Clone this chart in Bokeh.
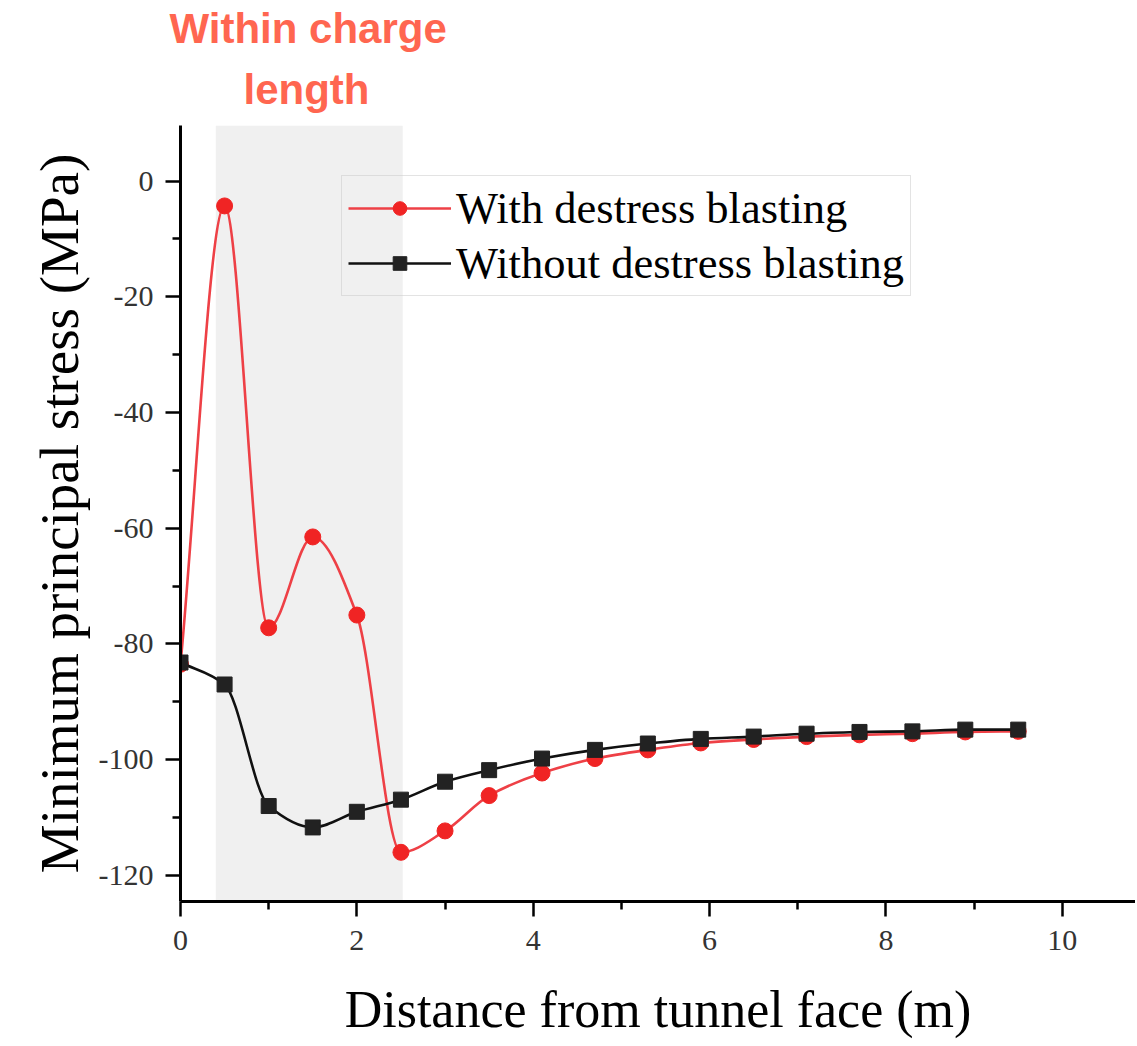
import numpy as np
from bokeh.plotting import figure
from bokeh.models import (ColumnDataSource, Range1d, FixedTicker, BoxAnnotation,
                          Legend, LegendItem, PrintfTickFormatter, Title)
from bokeh.embed import file_html
from bokeh.resources import INLINE

# ---------------- data ----------------
distance = [0, 0.5, 1.0, 1.5, 2.0, 2.5, 3.0, 3.5, 4.1, 4.7, 5.3, 5.9, 6.5, 7.1, 7.7, 8.3, 8.9, 9.5]
with_blasting = [-83.5, -4.3, -77.2, -61.5, -75.0, -116.0, -112.3, -106.2, -102.3, -99.8,
                 -98.3, -97.1, -96.5, -96.0, -95.7, -95.5, -95.2, -95.1]
without_blasting = [-83.2, -87.0, -108.0, -111.7, -109.0, -106.9, -103.8, -101.8, -99.8, -98.3,
                    -97.2, -96.4, -96.0, -95.5, -95.2, -95.1, -94.8, -94.8]
x_major_ticks = [0, 2, 4, 6, 8, 10]
x_minor_ticks = [1, 3, 5, 7, 9]
y_major_ticks = [-120, -100, -80, -60, -40, -20, 0]
y_minor_ticks = [-110, -90, -70, -50, -30, -10]
charge_start, charge_end = 0.4, 2.52
series_names = ["With destress blasting", "Without destress blasting"]
annotation_lines = ["Within charge", "length"]

RED_LINE = "#EE4046"
RED_MARK = "#F02424"
BLACK_LINE = "#111111"
BLACK_MARK = "#222222"
ANNOT = "#FF6650"
SERIF = "Liberation Serif"


def smooth_segments(xs, ys):
    """Monotone (Fritsch-Carlson) cubic tangents -> Bezier control points per data segment."""
    x = np.asarray(xs, float)
    y = np.asarray(ys, float)
    h = np.diff(x)
    d = np.diff(y) / h
    m = np.empty_like(y)
    m[0], m[-1] = d[0], d[-1]
    for k in range(1, len(x) - 1):
        if d[k - 1] * d[k] <= 0:
            m[k] = 0.0
        else:
            w1 = 2 * h[k] + h[k - 1]
            w2 = h[k] + 2 * h[k - 1]
            m[k] = (w1 + w2) / (w1 / d[k - 1] + w2 / d[k])
    return dict(
        x0=x[:-1], y0=y[:-1], x1=x[1:], y1=y[1:],
        cx0=x[:-1] + h / 3.0, cy0=y[:-1] + m[:-1] * h / 3.0,
        cx1=x[1:] - h / 3.0, cy1=y[1:] - m[1:] * h / 3.0,
    )


p = figure(width=1135, height=1040, output_backend="svg", toolbar_location=None,
           x_range=Range1d(0, 10.83), y_range=Range1d(-124.5, 9.6),
           min_border_left=180, min_border_right=0, min_border_top=125, min_border_bottom=135)
p.outline_line_color = None
p.grid.visible = False

# annotation above the band (first added sits nearest the frame)
p.add_layout(Title(text=annotation_lines[1], align="left", offset=63,
                   text_font="Liberation Sans", text_font_style="bold",
                   text_font_size="42px", text_color=ANNOT, standoff=26), "above")
p.add_layout(Title(text=annotation_lines[0], align="left", offset=-11,
                   text_font="Liberation Sans", text_font_style="bold",
                   text_font_size="42px", text_color=ANNOT, standoff=-2), "above")

# shaded "within charge length" band
p.add_layout(BoxAnnotation(left=charge_start, right=charge_end, fill_color="#F0F0F0",
                           fill_alpha=1.0, line_color=None, level="underlay"))

src_with = ColumnDataSource(dict(x=distance, y=with_blasting))
src_without = ColumnDataSource(dict(x=distance, y=without_blasting))

p.bezier(source=ColumnDataSource(smooth_segments(distance, with_blasting)),
         x0="x0", y0="y0", x1="x1", y1="y1", cx0="cx0", cy0="cy0", cx1="cx1", cy1="cy1",
         line_color=RED_LINE, line_width=2.6)
red_pts = p.scatter("x", "y", source=src_with, marker="circle", size=16,
                    fill_color=RED_MARK, line_color=RED_MARK)
p.bezier(source=ColumnDataSource(smooth_segments(distance, without_blasting)),
         x0="x0", y0="y0", x1="x1", y1="y1", cx0="cx0", cy0="cy0", cx1="cx1", cy1="cy1",
         line_color=BLACK_LINE, line_width=2.6)
black_pts = p.scatter("x", "y", source=src_without, marker="square", size=15,
                      fill_color=BLACK_MARK, line_color=BLACK_MARK)

# legend proxies (line style only, no visible data)
nan = float("nan")
red_proxy = p.line(x=[nan, nan], y=[nan, nan], line_color=RED_LINE, line_width=2.6)
black_proxy = p.line(x=[nan, nan], y=[nan, nan], line_color=BLACK_LINE, line_width=2.6)

legend = Legend(items=[LegendItem(label=series_names[0], renderers=[red_proxy, red_pts]),
                       LegendItem(label=series_names[1], renderers=[black_proxy, black_pts])],
                location=(161, 605), orientation="vertical",
                label_text_font=SERIF, label_text_font_size="44.5px", label_text_color="black",
                glyph_width=103, glyph_height=34, label_height=50, label_standoff=5,
                padding=6, spacing=3, margin=0,
                background_fill_alpha=0.0, border_line_color="#C8C8C8", border_line_width=1)
p.add_layout(legend)

# axes
for ax in (p.xaxis[0], p.yaxis[0]):
    ax.axis_line_width = 3
    ax.axis_line_color = "black"
    ax.major_tick_line_width = 2.5
    ax.minor_tick_line_width = 2.5
    ax.major_tick_line_color = "black"
    ax.minor_tick_line_color = "black"
    ax.major_tick_in = 0
    ax.major_tick_out = 15
    ax.minor_tick_in = 0
    ax.minor_tick_out = 8
    ax.major_label_text_font = SERIF
    ax.major_label_text_font_size = "30px"
    ax.major_label_text_color = "#333333"
    ax.axis_label_text_font = SERIF
    ax.axis_label_text_font_style = "normal"
    ax.axis_label_text_color = "black"
    ax.formatter = PrintfTickFormatter(format="%d")

p.xaxis[0].ticker = FixedTicker(ticks=x_major_ticks, minor_ticks=x_minor_ticks)
p.yaxis[0].ticker = FixedTicker(ticks=y_major_ticks, minor_ticks=y_minor_ticks)
p.xaxis[0].axis_label = "Distance from tunnel face (m)"
p.yaxis[0].axis_label = "Minimum principal stress (MPa)"
p.xaxis[0].axis_label_text_font_size = "52px"
p.yaxis[0].axis_label_text_font_size = "55px"
p.xaxis[0].major_label_standoff = 14
p.yaxis[0].major_label_standoff = 12
p.xaxis[0].axis_label_standoff = 28
p.yaxis[0].axis_label_standoff = 6

open("out.html", "w").write(file_html(p, INLINE))
